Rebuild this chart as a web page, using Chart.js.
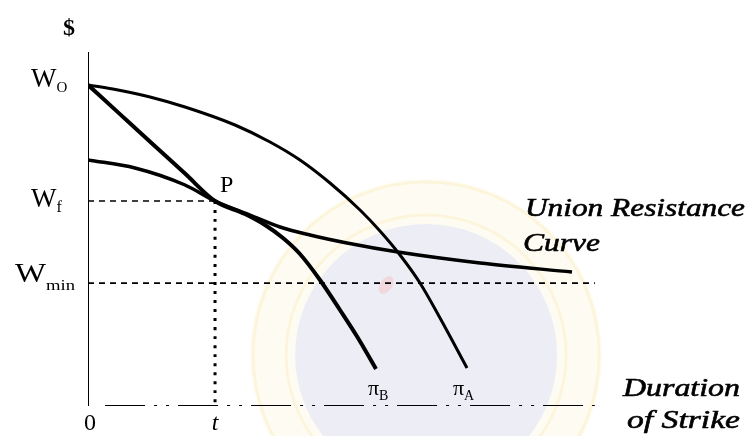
<!DOCTYPE html>
<html>
<head>
<meta charset="utf-8">
<script src="https://cdn.jsdelivr.net/npm/chart.js@4/dist/chart.umd.min.js"></script>
<style>
  html, body { margin: 0; padding: 0; background: #fff; }
  #wrap { width: 747px; height: 436px; position: relative; }
</style>
</head>
<body>
<div id="wrap"><canvas id="c"></canvas></div>
<script>
// Wage (vertical) against duration of strike (horizontal), both in index units 0–100.
const W0 = 90.7;      // initial wage offer level
const Wf = 57.9;      // final settlement wage
const Wmin = 34.7;    // union's minimum acceptable wage
const tSettle = 20.1; // strike duration at settlement

// Union resistance curve
const urcX = [0, 7.44, 15.35, 20.1, 25.63, 30.38, 35.13, 40.98, 49.05, 62.03, 76.58];
const urcY = [69.5, 67.23, 62.43, 57.9, 53.95, 50.56, 48.31, 46.05, 43.5, 40.4, 37.85];

// Employer concession curve B (steeper)
const piBX = [0, 4.75, 10.13, 15.35, 20.1, 24.84, 28.01, 30.85, 33.54, 36.71, 39.87, 42.72, 45.57];
const piBY = [90.7, 82.94, 74.15, 65.65, 57.9, 54.24, 51.13, 47.46, 42.94, 35.59, 27.12, 19.21, 10.45];

// Employer concession curve A (flatter)
const piAX = [0, 4.75, 9.81, 15.35, 23.26, 28.8, 33.54, 38.29, 43.04, 46.2, 49.37, 52.53, 55.7, 59.97];
const piAY = [90.7, 89.27, 87.29, 84.46, 79.38, 74.58, 69.49, 62.99, 55.37, 49.44, 42.66, 34.75, 24.86, 10.73];

const xAxisRange = [2.7, 80.2];
const wminLineEnd = 80.2;

const pts = (xs, ys) => xs.map((x, i) => ({ x, y: ys[i] }));

const serif = '"Liberation Serif", "DejaVu Serif", serif';

// Faint circular emblem behind the diagram
const emblem = {
  id: 'emblem',
  beforeDatasetsDraw(chart) {
    const { ctx, scales: { x, y } } = chart;
    const cx = x.getPixelForValue(53.5), cy = y.getPixelForValue(14.4);
    ctx.save();
    ctx.fillStyle = 'rgba(250, 238, 190, 0.2)';
    ctx.beginPath(); ctx.arc(cx, cy, 176, 0, Math.PI * 2); ctx.fill();
    ctx.strokeStyle = 'rgba(248, 230, 170, 0.3)';
    ctx.lineWidth = 3;
    ctx.beginPath(); ctx.arc(cx, cy, 173, 0, Math.PI * 2); ctx.stroke();
    ctx.beginPath(); ctx.arc(cx, cy, 140, 0, Math.PI * 2); ctx.stroke();
    ctx.fillStyle = 'rgba(210, 214, 252, 0.4)';
    ctx.beginPath(); ctx.arc(cx, cy, 131, 0, Math.PI * 2); ctx.fill();
    ctx.fillStyle = 'rgba(245, 195, 195, 0.5)';
    ctx.beginPath(); ctx.ellipse(cx - 40, cy - 70, 6, 10, 0.6, 0, Math.PI * 2); ctx.fill();
    ctx.restore();
  }
};

// Text annotations
const labels = {
  id: 'labels',
  afterDatasetsDraw(chart) {
    const { ctx, scales: { x, y } } = chart;
    const px = v => x.getPixelForValue(v), py = v => y.getPixelForValue(v);
    ctx.save();
    ctx.fillStyle = '#000';
    ctx.strokeStyle = '#000';
    ctx.textBaseline = 'alphabetic';
    ctx.textAlign = 'left';

    // draw text from a left edge, stretched or squeezed to a given width
    const fit = (text, left, base, font, width, heavy = 0) => {
      ctx.font = font;
      const w = ctx.measureText(text).width;
      ctx.save();
      ctx.translate(left, base);
      ctx.scale(width / w, 1);
      ctx.fillText(text, 0, 0);
      if (heavy) { ctx.lineWidth = heavy; ctx.strokeText(text, 0, 0); }
      ctx.restore();
    };
    const plain = (text, left, base, font) => { ctx.font = font; ctx.fillText(text, left, base); return ctx.measureText(text).width; };

    ctx.textAlign = 'center';
    ctx.font = `bold 24px ${serif}`;
    ctx.fillText('$', 69, 35);
    ctx.textAlign = 'left';

    // wage levels on the vertical axis
    let w = plain('W', 31, py(W0) + 2, `27px ${serif}`);
    plain('O', 31 + w, py(W0) + 7, `15px ${serif}`);
    w = plain('W', 31, py(Wf) + 6, `27px ${serif}`);
    plain('f', 31 + w, py(Wf) + 11, `16px ${serif}`);
    fit('W', 15, py(Wmin) - 1, `27px ${serif}`, 31);
    fit('min', 46, py(Wmin) + 7, `15px ${serif}`, 29);

    plain('P', px(tSettle) + 5, py(Wf) - 9, `24px ${serif}`);

    ctx.textAlign = 'center';
    ctx.font = `24px ${serif}`;
    ctx.fillText('0', px(0) + 2, 430);
    ctx.font = `italic 24px ${serif}`;
    ctx.fillText('t', px(tSettle), 430);
    ctx.textAlign = 'left';

    // curve names at the lower ends
    w = plain('π', 368, 395, `22px ${serif}`);
    plain('B', 368 + w, 400, `14px ${serif}`);
    w = plain('π', 453, 395, `22px ${serif}`);
    plain('A', 453 + w, 400, `14px ${serif}`);

    const it = `italic 26px ${serif}`;
    fit('Union Resistance', 525, 216, it, 220, 0.6);
    fit('Curve', 523, 251, it, 77, 0.6);
    fit('Duration', 623, 396, it, 117, 0.6);
    fit('of Strike', 627, 428, it, 113, 0.6);
    ctx.restore();
  }
};

const line = (data, width, extra = {}) => Object.assign({
  data, borderColor: '#000', borderWidth: width, pointRadius: 0,
  fill: false, cubicInterpolationMode: 'monotone', borderCapStyle: 'butt'
}, extra);

new Chart(document.getElementById('c'), {
  type: 'line',
  data: {
    datasets: [
      // axes
      line([{ x: 0, y: 0 }, { x: 0, y: 100 }], 2),
      line([{ x: xAxisRange[0], y: 0 }, { x: xAxisRange[1], y: 0 }], 2, { borderDash: [40, 9, 3, 9, 3, 9] }),
      // reference lines
      line([{ x: 0, y: Wf }, { x: tSettle, y: Wf }], 1.6, { borderDash: [6, 5] }),
      line([{ x: 0, y: Wmin }, { x: wminLineEnd, y: Wmin }], 1.6, { borderDash: [6, 5] }),
      line([{ x: tSettle, y: Wf }, { x: tSettle, y: 0 }], 3, { borderDash: [3, 6] }),
      // curves
      line(pts(urcX, urcY), 3.5),
      line(pts(piBX, piBY), 4),
      line(pts(piAX, piAY), 3)
    ]
  },
  options: {
    responsive: true,
    maintainAspectRatio: false,
    animation: false,
    layout: { padding: { left: 88, right: 27, top: 52, bottom: 30 } },
    plugins: { legend: { display: false }, tooltip: { enabled: false } },
    scales: {
      x: { type: 'linear', min: 0, max: 100, display: false },
      y: { type: 'linear', min: 0, max: 100, display: false }
    }
  },
  plugins: [emblem, labels]
});
</script>
</body>
</html>
